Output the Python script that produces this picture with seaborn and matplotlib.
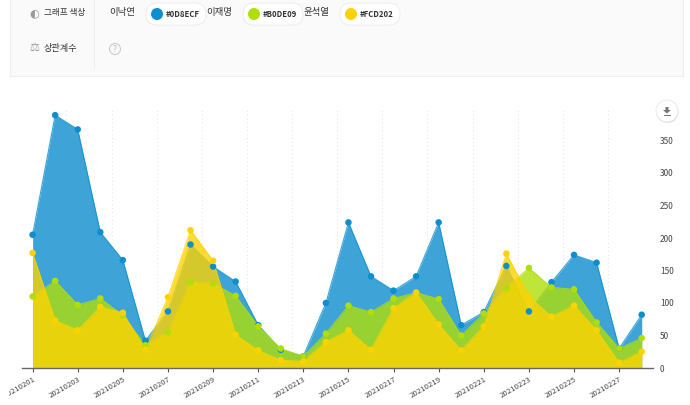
import pandas as pd
import seaborn as sns
import matplotlib.pyplot as plt
from matplotlib.patches import Circle, FancyBboxPatch, Polygon, Rectangle
from matplotlib.transforms import Bbox

dates = [str(d) for d in range(20210201, 20210229)]
lee_nakyon = [205, 389, 367, 209, 166, 42, 87, 190, 156, 133, 66, 28, 18, 100,
              224, 141, 119, 141, 224, 66, 86, 157, 87, 132, 174, 162, 30, 82]
lee_jaemyung = [110, 134, 97, 107, 81, 35, 55, 132, 130, 111, 64, 30, 18, 53,
                96, 86, 107, 116, 106, 50, 84, 123, 154, 124, 121, 70, 30, 46]
yoon_seokyoul = [177, 73, 58, 94, 85, 28, 109, 212, 165, 51, 27, 12, 10, 40,
                 58, 28, 92, 116, 67, 27, 64, 176, 110, 79, 96, 58, 8, 25]
names = ["이낙연", "이재명", "윤석열"]
colors = ["#0D8ECF", "#B0DE09", "#FCD202"]
y_ticks = [0, 50, 100, 150, 200, 250, 300, 350]

sns.set_theme(style="white")
plt.rcParams["font.family"] = ["Noto Sans CJK KR", "DejaVu Sans"]

df = pd.DataFrame({"date": dates, "idx": range(len(dates)), "이낙연": lee_nakyon,
                   "이재명": lee_jaemyung, "윤석열": yoon_seokyoul})
long_df = df.melt(id_vars=["date", "idx"], value_vars=names, var_name="name", value_name="count")

fig = plt.figure(figsize=(6.9, 4.05), dpi=100)
ax = fig.add_axes([22 / 690, 1 - 368 / 405, 631 / 690, 260 / 405])

# Areas stacked in drawing order, each one covers the line below it
for i, (name, color) in enumerate(zip(names, colors)):
    ax.fill_between(df["idx"], 0, df[name], color=color, alpha=0.8, linewidth=0, zorder=2 + i)
    sns.lineplot(data=df, x="idx", y=name, color=color, linewidth=0.8, alpha=0.8, ax=ax, zorder=2 + i)

# Markers stay above all the areas
sns.scatterplot(data=long_df, x="idx", y="count", hue="name", hue_order=names, palette=colors,
                s=22, linewidth=0, legend=False, ax=ax, zorder=6, clip_on=False)

ax.set_xlim(-0.47, 27.5)
ax.set_ylim(0, 400)
ax.set_xlabel("")
ax.set_ylabel("")
ax.set_xticks(df["idx"][::2])
ax.set_xticklabels(df["date"][::2], rotation=30, ha="right", rotation_mode="anchor", fontsize=5.6, color="#444444")
ax.set_yticks(y_ticks)
ax.yaxis.tick_right()
ax.tick_params(axis="y", length=0, pad=5, labelsize=6, labelcolor="#444444")
ax.tick_params(axis="x", length=3, width=0.8, color="#555555", pad=2, bottom=True)
for spine in ["top", "left", "right"]:
    ax.spines[spine].set_visible(False)
ax.spines["bottom"].set_color("#666666")
ax.spines["bottom"].set_linewidth(1)
ax.spines["bottom"].set_zorder(7)

# Dotted lines between every second day
for x in df["idx"][::2]:
    ax.axvline(x - 0.5, color="#e2e2e2", linewidth=0.7, linestyle=(0, (1, 3)), zorder=1)
ax.axvline(27.5, color="#e2e2e2", linewidth=0.7, linestyle=(0, (1, 3)), zorder=1)

# The first label is cut off by the page edge
for label in ax.get_xticklabels():
    label.set_clip_on(True)
    label.set_clip_box(Bbox([[9, 0], [690, 405]]))

# Page controls above and beside the chart, in pixel coordinates
ui = fig.add_axes([0, 0, 1, 1], zorder=10)
ui.set_xlim(0, 690)
ui.set_ylim(405, 0)
ui.axis("off")
ui.patch.set_alpha(0)

ui.add_patch(Rectangle((10, -5), 673, 81, facecolor="#fafafa", edgecolor="#eeeeee", linewidth=0.8))
ui.plot([93.5, 93.5], [0, 68], color="#eeeeee", linewidth=0.8)

ui.text(34, 13, "◐", fontsize=8, color="#999999", ha="center", va="center", family="DejaVu Sans")
ui.text(34, 48, "⚖", fontsize=8, color="#999999", ha="center", va="center", family="DejaVu Sans")
ui.text(44, 13, "그래프 색상", fontsize=6.2, color="#333333", va="center", weight="medium")
ui.text(44, 48, "상관계수", fontsize=6.6, color="#333333", va="center", weight="medium")

name_x = [109, 206, 303]
pill_x = [146, 243, 340]
for name, color, nx, px in zip(names, colors, name_x, pill_x):
    ui.text(nx, 13, name, fontsize=6.8, color="#333333", va="center")
    ui.add_patch(FancyBboxPatch((px + 11, 3 + 11), 38, 0.1, boxstyle="round,pad=11,rounding_size=11",
                                facecolor="white", edgecolor="#eeeeee", linewidth=0.8))
    ui.add_patch(Circle((px + 11, 14), 6, facecolor=color, edgecolor="none"))
    ui.text(px + 20, 14.5, color, fontsize=5.6, color="#333333", va="center", weight="bold")

ui.add_patch(Circle((115, 49), 5.5, facecolor="none", edgecolor="#cccccc", linewidth=0.8))
ui.text(115, 49, "?", fontsize=6, color="#bbbbbb", ha="center", va="center")

# Download button
ui.add_patch(Circle((667.5, 112), 11, facecolor="#cccccc", edgecolor="none", alpha=0.7))
ui.add_patch(Circle((667, 111), 11, facecolor="white", edgecolor="#e8e8e8", linewidth=0.6))
ui.add_patch(Polygon([[665.5, 107], [668.5, 107], [668.5, 110], [671, 110], [667, 113.5], [663, 110], [665.5, 110]],
                     facecolor="#777777", edgecolor="none"))
ui.add_patch(Rectangle((663.5, 115), 7, 1, facecolor="#777777", edgecolor="none"))

fig.savefig("out.png", dpi=100)
